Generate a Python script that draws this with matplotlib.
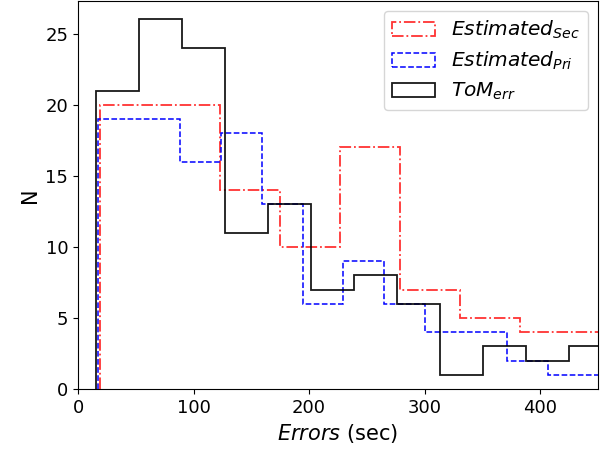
import matplotlib
matplotlib.use("Agg")
import matplotlib.pyplot as plt
import numpy as np

# ToM_err histogram
tom_edges = [15.6, 52.8, 90.0, 127.2, 164.4, 201.6, 238.8, 276.0, 313.2, 350.4, 387.6, 424.8, 462.0]
tom_counts = [21, 26, 24, 11, 13, 7, 8, 6, 1, 3, 2, 3]

# Estimated_Sec histogram
sec_edges = [19, 71, 123, 175, 227, 279, 331, 383, 435, 487]
sec_counts = [20, 20, 14, 10, 17, 7, 5, 4, 4]

# Estimated_Pri histogram
pri_edges = [17.4, 52.8, 88.2, 123.6, 159.0, 194.4, 229.8, 265.2, 300.6, 336.0, 371.4, 406.8, 442.2, 477.6]
pri_counts = [19, 19, 16, 18, 13, 6, 9, 6, 4, 4, 2, 1, 1]

def centers(e):
    e = np.asarray(e)
    return (e[:-1] + e[1:]) / 2

fig = plt.figure(figsize=(6.05, 4.49), dpi=100)
ax = fig.add_axes([0.129, 0.1336, 0.859, 0.8642])

ax.hist(centers(sec_edges), bins=sec_edges, weights=sec_counts, histtype='step',
        color='r', alpha=0.8, linestyle='-.', linewidth=1.3, label=r'$Estimated_{Sec}$')
ax.hist(centers(pri_edges), bins=pri_edges, weights=pri_counts, histtype='step',
        color='b', linestyle='--', linewidth=1.1, label=r'$Estimated_{Pri}$')
ax.hist(centers(tom_edges), bins=tom_edges, weights=tom_counts, histtype='step',
        color='k', alpha=0.9, linestyle='-', linewidth=1.3, label=r'$ToM_{err}$')

ax.set_xlim(0, 450)
ax.set_xticks([0, 100, 200, 300, 400])
ax.set_yticks([0, 5, 10, 15, 20, 25])
ax.tick_params(labelsize=13)
ax.set_xlabel(r'$Errors$ (sec)', fontsize=15)
ax.set_ylabel('N', fontsize=15)
ax.legend(loc='upper right', fontsize=14.5, labelspacing=0.42, handlelength=2.1)

fig.savefig('out.png', dpi=100)
